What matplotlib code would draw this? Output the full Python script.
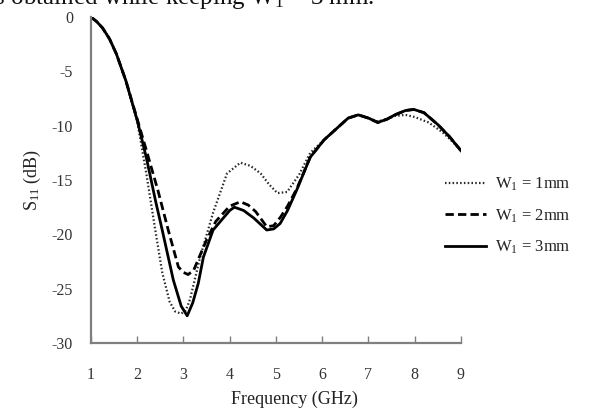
import matplotlib.pyplot as plt

plt.rcParams['font.family'] = ['Liberation Serif', 'DejaVu Serif']
plt.rcParams['mathtext.fontset'] = 'custom'
plt.rcParams['mathtext.rm'] = 'Liberation Serif'
plt.rcParams['mathtext.it'] = 'Liberation Serif:italic'

# S11 curves for three values of W1 (GHz, dB)
f_1mm = [1.0, 1.12, 1.25, 1.4, 1.55, 1.75, 2.0, 2.2, 2.39, 2.54, 2.7, 2.82, 2.95, 3.05, 3.14,
         3.36, 3.64, 3.94, 4.23, 4.45, 4.67, 4.85, 5.03, 5.24, 5.5, 5.74, 6.04, 6.3, 6.56,
         6.78, 7.0, 7.2, 7.4, 7.57, 7.8, 8.0, 8.3, 8.6, 8.8, 9.0]
s_1mm = [0.0, -0.4, -1.0, -2.0, -3.4, -5.9, -9.6, -14.5, -19.6, -23.5, -26.2, -27.1, -27.3,
         -27.0, -26.0, -22.1, -18.0, -14.4, -13.4, -13.7, -14.4, -15.4, -16.2, -16.1, -14.5,
         -12.5, -11.3, -10.3, -9.3, -9.0, -9.3, -9.6, -9.4, -9.1, -9.0, -9.2, -9.7, -10.6,
         -11.4, -12.3]

f_2mm = [1.0, 1.12, 1.25, 1.4, 1.55, 1.75, 2.0, 2.2, 2.45, 2.67, 2.89, 3.0, 3.1, 3.22, 3.35,
         3.5, 3.7, 4.0, 4.23, 4.4, 4.56, 4.8, 4.95, 5.1, 5.25, 5.45, 5.74, 6.04, 6.3, 6.56,
         6.78, 7.0, 7.2, 7.4, 7.57, 7.8, 7.98, 8.2, 8.5, 8.75, 9.0]
s_2mm = [0.0, -0.4, -1.0, -2.0, -3.4, -5.8, -9.4, -12.3, -16.0, -19.6, -23.0, -23.5, -23.7,
         -23.3, -22.0, -20.5, -18.8, -17.4, -17.0, -17.3, -17.9, -19.3, -19.2, -18.4, -17.4,
         -15.8, -12.9, -11.3, -10.3, -9.3, -9.0, -9.3, -9.7, -9.4, -9.0, -8.6, -8.5, -8.8,
         -9.9, -11.0, -12.3]

f_3mm = [1.0, 1.12, 1.25, 1.4, 1.55, 1.75, 2.0, 2.2, 2.4, 2.54, 2.78, 2.95, 3.08, 3.2, 3.32,
         3.43, 3.64, 4.0, 4.1, 4.3, 4.52, 4.8, 4.95, 5.09, 5.25, 5.45, 5.74, 6.04, 6.3, 6.56,
         6.78, 7.0, 7.2, 7.4, 7.57, 7.8, 7.98, 8.2, 8.5, 8.75, 9.0]
s_3mm = [0.0, -0.4, -1.0, -2.0, -3.4, -5.8, -9.5, -13.0, -17.0, -19.6, -24.2, -26.6, -27.5,
         -26.3, -24.5, -22.1, -19.6, -17.8, -17.5, -17.8, -18.5, -19.6, -19.5, -19.0, -17.8,
         -15.9, -12.9, -11.3, -10.3, -9.3, -9.0, -9.3, -9.7, -9.4, -9.0, -8.6, -8.5, -8.8,
         -9.9, -11.0, -12.3]

labels = ['W$_1$ = 1mm', 'W$_1$ = 2mm', 'W$_1$ = 3mm']
x_ticks = [1, 2, 3, 4, 5, 6, 7, 8, 9]
y_ticks = [0, -5, -10, -15, -20, -25, -30]

fig = plt.figure(figsize=(5.92, 4.12), dpi=100)
ax = fig.add_axes([0.1537, 0.1675, 0.625, 0.791])

ax.plot(f_1mm, s_1mm, color='#2a2a2a', lw=1.6, linestyle=(0, (0.7, 1.0)), label=labels[0])
ax.plot(f_2mm, s_2mm, color='black', lw=2.0, linestyle=(0, (3.0, 1.5)), label=labels[1])
ax.plot(f_3mm, s_3mm, color='black', lw=2.0, label=labels[2])

ax.set_xlim(1, 9)
ax.set_ylim(-30, 0)
ax.set_xticks(x_ticks)
ax.set_yticks(y_ticks)
ax.set_yticklabels([str(v) for v in y_ticks])

for side in ['top', 'right']:
    ax.spines[side].set_visible(False)
for side in ['left', 'bottom']:
    ax.spines[side].set_color('#7f7f7f')
    ax.spines[side].set_linewidth(1.6)

ax.tick_params(axis='x', direction='in', length=5, width=1.0, color='#7f7f7f',
               labelsize=11.5, labelcolor='#333333', pad=17)
ax.tick_params(axis='y', length=0, labelsize=11.5, labelcolor='#333333', pad=13)

ax.set_xlabel('Frequency (GHz)', fontsize=13, color='#222222')
ax.xaxis.set_label_coords(0.55, -0.145)
ax.set_ylabel('S$_{11}$ (dB)', fontsize=13, color='#222222')
ax.yaxis.set_label_coords(-0.13, 0.5)

leg = ax.legend(loc='center left', bbox_to_anchor=(0.915, 0.39), frameon=False,
                fontsize=12, handlelength=2.5, handletextpad=0.5, labelspacing=0.85)
for t in leg.get_texts():
    t.set_color('#222222')

# caption line sitting above the chart, clipped by the top edge
fig.text(-0.02, 0.99, 'is obtained while keeping W$_1$ = 3 mm.', fontsize=18,
         color='#111111', va='baseline', ha='left')

fig.savefig('out.png', dpi=100)
